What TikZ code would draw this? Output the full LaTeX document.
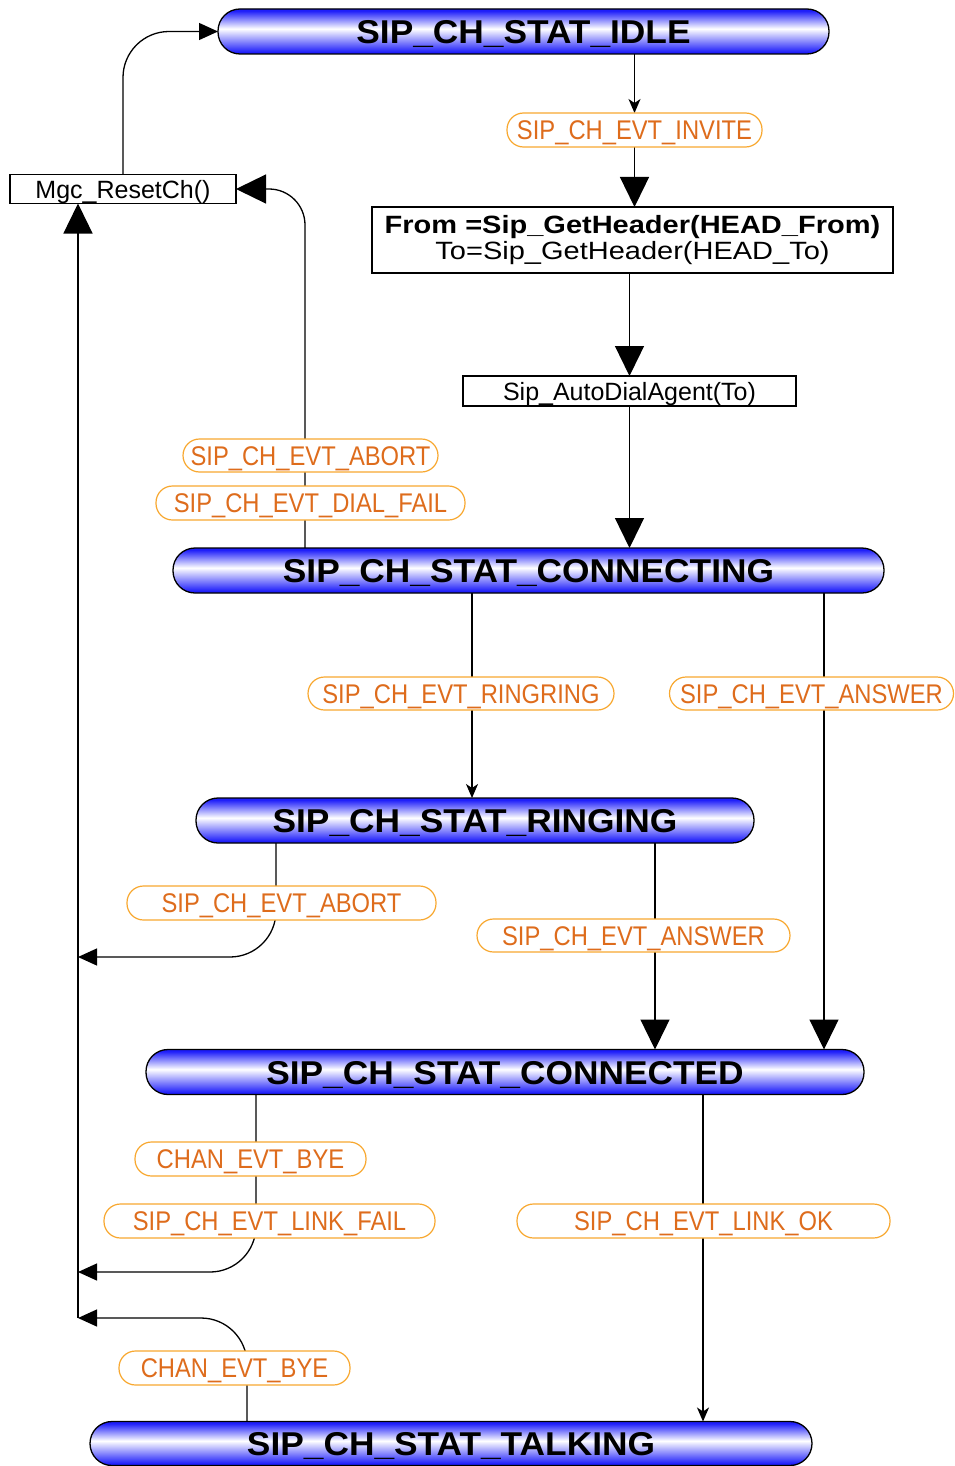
\documentclass[tikz,border=0pt]{standalone}
\usepackage{fontspec}
\setmainfont{Liberation Sans}
\newfontfamily\statefont[FakeStretch=1.07]{Liberation Sans}
\newfontfamily\evtfont[FakeStretch=0.88]{Liberation Sans}
\newfontfamily\hdrfont[FakeStretch=1.16]{Liberation Sans}
\usetikzlibrary{arrows.meta,backgrounds}
\definecolor{stblue}{RGB}{30,30,250}
\definecolor{evttext}{RGB}{222,108,28}
\definecolor{evtline}{RGB}{248,168,48}
% blue - white - blue band used for the state pills
\pgfdeclareverticalshading{pillshade}{100bp}{color(0bp)=(stblue); color(27bp)=(stblue); color(53bp)=(white); color(73bp)=(stblue); color(100bp)=(stblue)}
\tikzset{
  state/.style={draw=black, line width=1.3pt, shading=pillshade, rounded corners=22pt,
    minimum height=45pt, inner sep=0pt, outer sep=0pt, text height=24pt, text depth=0pt,
    font=\statefont\bfseries\fontsize{33}{36}\selectfont},
  actbox/.style={draw=black, line width=1.2pt, fill=white, inner sep=0pt, outer sep=0pt,
    font=\fontsize{25}{28}\selectfont},
  evt/.style={draw=evtline, line width=1.2pt, fill=white, text=evttext, rounded corners=16.5pt,
    minimum height=34pt, inner sep=0pt, outer sep=0pt, text height=19.5pt, text depth=0pt,
    font=\evtfont\fontsize{27}{30}\selectfont},
  conn/.style={draw=black, line width=1.3pt},
  bigtip/.style={-{Triangle[width=29pt,length=30pt]}},
  midtip/.style={-{Triangle[width=17pt,length=19pt]}},
  smalltip/.style={-{Stealth[width=12pt,length=14pt,inset=4pt]}}
}
\begin{document}
\begin{tikzpicture}[x=1pt,y=-1pt]
\useasboundingbox (0,0) rectangle (955,1466);

% states
\node[state, minimum width=611pt] (idle) at (523.5,31.5) {SIP\_CH\_STAT\_IDLE};
\node[state, minimum width=711pt] (conn) at (528.5,570.5) {SIP\_CH\_STAT\_CONNECTING};
\node[state, minimum width=558pt] (ring) at (475,820.5) {SIP\_CH\_STAT\_RINGING};
\node[state, minimum width=718pt] (cond) at (505,1072) {SIP\_CH\_STAT\_CONNECTED};
\node[state, minimum width=722pt, minimum height=44pt] (talk) at (451,1443.5) {SIP\_CH\_STAT\_TALKING};

% actions
\node[actbox, minimum width=226pt, minimum height=29pt, text height=18pt, text depth=0pt] (mgc) at (123,189) {Mgc\_ResetCh()};
\node[actbox, minimum width=521pt, minimum height=66pt, align=center, font=\hdrfont\fontsize{25}{25}\selectfont] (hdr) at (632.5,240)
  {\bfseries From =Sip\_GetHeader(HEAD\_From)\\[-1pt]\rule{0pt}{21pt}To=Sip\_GetHeader(HEAD\_To)};
\node[actbox, minimum width=333pt, minimum height=30pt, text height=18pt, text depth=0pt] (dial) at (629.5,391) {Sip\_AutoDialAgent(To)};

% events
\node[evt, minimum width=255pt] (invite) at (634.5,130) {SIP\_CH\_EVT\_INVITE};
\node[evt, minimum width=255pt, minimum height=33pt] (abortA) at (310.5,455.5) {SIP\_CH\_EVT\_ABORT};
\node[evt, minimum width=309pt] (dialfail) at (310.5,503) {SIP\_CH\_EVT\_DIAL\_FAIL};
\node[evt, minimum width=306pt, minimum height=33pt] (ringring) at (461,693.5) {SIP\_CH\_EVT\_RINGRING};
\node[evt, minimum width=284pt, minimum height=33pt] (answerA) at (811.5,693.5) {SIP\_CH\_EVT\_ANSWER};
\node[evt, minimum width=309pt] (abortB) at (281.5,903) {SIP\_CH\_EVT\_ABORT};
\node[evt, minimum width=313pt, minimum height=33pt] (answerB) at (633.5,935.5) {SIP\_CH\_EVT\_ANSWER};
\node[evt, minimum width=231pt] (byeA) at (250.5,1159) {CHAN\_EVT\_BYE};
\node[evt, minimum width=331pt] (linkfail) at (269.5,1221) {SIP\_CH\_EVT\_LINK\_FAIL};
\node[evt, minimum width=373pt] (linkok) at (703.5,1221) {SIP\_CH\_EVT\_LINK\_OK};
\node[evt, minimum width=231pt] (byeB) at (234.5,1368) {CHAN\_EVT\_BYE};

% vertical lanes and join points on the return line
\coordinate (xA) at (305,0);
\coordinate (xB) at (472,0);
\coordinate (xC) at (824,0);
\coordinate (xD) at (276,0);
\coordinate (xE) at (655,0);
\coordinate (xF) at (256,0);
\coordinate (xG) at (703,0);
\coordinate (xH) at (247,0);
\coordinate (jA) at (78,957);
\coordinate (jB) at (78,1272);
\coordinate (jC) at (78,1318);

\begin{pgfonlayer}{background}
  % setup path
  \draw[conn, smalltip] (idle.south -| invite.north) -- (invite.north);
  \draw[conn, bigtip] (invite.south) -- (invite.south |- hdr.north);
  \draw[conn, bigtip] (hdr.south -| dial.north) -- (dial.north);
  \draw[conn, bigtip] (dial.south) -- (dial.south |- conn.north);
  % failure back to reset, then to idle
  \draw[conn, bigtip, rounded corners=36pt] (conn.north -| xA) |- (mgc.east);
  \draw[conn, midtip, rounded corners=46pt] (mgc.north) |- (idle.west);
  \draw[conn, bigtip] (jC) -- (jC |- mgc.south);
  % connecting
  \draw[conn, smalltip] (conn.south -| xB) -- (ring.north -| xB);
  \draw[conn, bigtip] (conn.south -| xC) -- (cond.north -| xC);
  % ringing
  \draw[conn, midtip, rounded corners=46pt] (ring.south -| xD) |- (jA);
  \draw[conn, bigtip] (ring.south -| xE) -- (cond.north -| xE);
  % connected
  \draw[conn, midtip, rounded corners=46pt] (cond.south -| xF) |- (jB);
  \draw[conn, smalltip] (cond.south -| xG) -- (talk.north -| xG);
  % talking
  \draw[conn, midtip, rounded corners=46pt] (talk.north -| xH) |- (jC);
\end{pgfonlayer}
\end{tikzpicture}
\end{document}
